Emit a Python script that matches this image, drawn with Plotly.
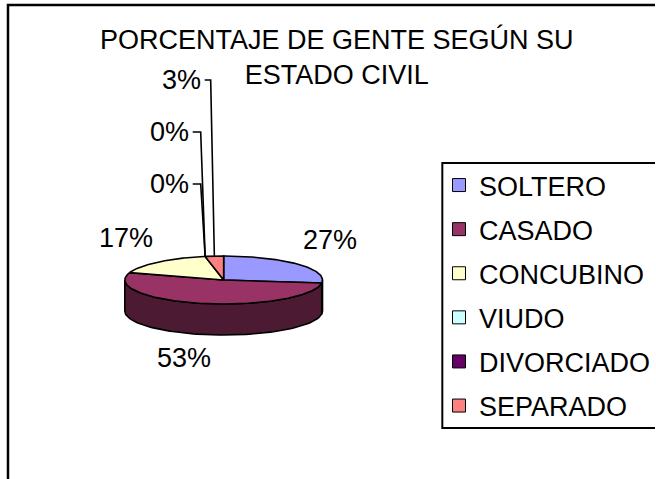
import numpy as np
import plotly.graph_objects as go

# ---------------- data ----------------
categories = ["SOLTERO", "CASADO", "CONCUBINO", "VIUDO", "DIVORCIADO", "SEPARADO"]
values = [27, 53, 17, 0, 0, 3]
title_text = "PORCENTAJE DE GENTE SEGÚN SU<br>ESTADO CIVIL"

# ---------------- style ----------------
top_colors = ["#9999FF", "#993366", "#FFFFCC", "#CCFFFF", "#660066", "#FF8080"]
side_colors = ["#4D4D80", "#4D1A33", "#808066", "#668080", "#330033", "#804040"]
FONT = "Liberation Sans, Arial, sans-serif"
FS = 27
W, H = 656, 479
CX, CY, RX, RY, DEPTH = 224, 280, 99, 24, 31

# label placement (layout, not data)
label_layout = {
    "SOLTERO": dict(x=330, y=240, anchor="center"),
    "CASADO": dict(x=184, y=358, anchor="center"),
    "CONCUBINO": dict(x=126, y=238, anchor="center"),
    "VIUDO": dict(x=191, y=184, anchor="right", elbow=201),
    "DIVORCIADO": dict(x=191, y=132, anchor="right", elbow=201),
    "SEPARADO": dict(x=203, y=80, anchor="right", elbow=211),
}

total = float(sum(values))


def pt(theta_deg, dy=0.0):
    t = np.radians(theta_deg)
    return CX + RX * np.sin(t), CY - RY * np.cos(t) + dy


fig = go.Figure()

# angles (clockwise from 12 o'clock)
starts, ends = [], []
acc = 0.0
for v in values:
    a = acc / total * 360.0
    acc += v
    b = acc / total * 360.0
    starts.append(a)
    ends.append(b)

# side faces (front half only: 90..270 deg)
for name, a, b, sc in zip(categories, starts, ends, side_colors):
    lo, hi = max(a, 90.0), min(b, 270.0)
    if hi <= lo:
        continue
    th = np.linspace(lo, hi, 80)
    xt, yt = pt(th)
    xb, yb = pt(th[::-1], DEPTH)
    xs = np.concatenate([xt, xb, xt[:1]])
    ys = np.concatenate([yt, yb, yt[:1]])
    fig.add_trace(go.Scatter(x=xs, y=ys, mode="lines", fill="toself",
                             fillcolor=sc, line=dict(color="black", width=1.6),
                             legendgroup=name, showlegend=False, hoverinfo="skip"))

# top faces
for name, v, a, b, tc in zip(categories, values, starts, ends, top_colors):
    if b - a <= 0:
        continue
    th = np.linspace(a, b, max(int((b - a) * 1.5), 4))
    xa, ya = pt(th)
    xs = np.concatenate([[CX], xa, [CX]])
    ys = np.concatenate([[CY], ya, [CY]])
    fig.add_trace(go.Scatter(x=xs, y=ys, mode="lines", fill="toself",
                             fillcolor=tc, line=dict(color="black", width=1.6),
                             legendgroup=name, showlegend=False,
                             name=name, hoverinfo="name"))

# leader lines + labels
annotations = [dict(x=338, y=57, xref="x", yref="y", text=title_text,
                    showarrow=False, xanchor="center", yanchor="middle",
                    font=dict(family=FONT, size=FS, color="black"))]
for name, v, a, b in zip(categories, values, starts, ends):
    lay = label_layout[name]
    pct = f"{round(v / total * 100)}%"
    annotations.append(dict(x=lay["x"], y=lay["y"], xref="x", yref="y", text=pct,
                            showarrow=False, xanchor=lay["anchor"], yanchor="middle",
                            font=dict(family=FONT, size=FS, color="black")))
    if "elbow" in lay:
        px, py = pt((a + b) / 2.0)
        fig.add_trace(go.Scatter(x=[lay["x"] + 2, lay["elbow"], px],
                                 y=[lay["y"], lay["y"], py], mode="lines",
                                 line=dict(color="black", width=1.6),
                                 showlegend=False, hoverinfo="skip"))

# legend entries
for name, tc in zip(categories, top_colors):
    fig.add_trace(go.Scatter(x=[None], y=[None], mode="markers", name=name,
                             legendgroup=name,
                             marker=dict(symbol="square", size=13, color=tc,
                                         line=dict(color="black", width=1))))

fig.update_layout(
    width=W, height=H,
    margin=dict(l=0, r=0, t=0, b=0),
    paper_bgcolor="white", plot_bgcolor="white",
    xaxis=dict(range=[0, W], visible=False, fixedrange=True),
    yaxis=dict(range=[H, 0], visible=False, fixedrange=True),
    legend=dict(x=440 / W, y=1 - 161 / H, xanchor="left", yanchor="top",
                borderwidth=0, bgcolor="rgba(0,0,0,0)",
                font=dict(family=FONT, size=FS, color="black"),
                traceorder="grouped", tracegroupgap=6),
    annotations=annotations,
    shapes=[
        dict(type="rect", xref="x", yref="y", x0=8, y0=5, x1=W + 40, y1=H + 40,
             line=dict(color="black", width=2.5), layer="below"),
        dict(type="rect", xref="x", yref="y", x0=443, y0=163, x1=W + 40, y1=428,
             line=dict(color="black", width=2), layer="above"),
    ],
    showlegend=True,
)

fig.write_html("out.html", config={"displayModeBar": False},
               post_script="document.body.style.margin='0';document.body.style.overflow='hidden';")
